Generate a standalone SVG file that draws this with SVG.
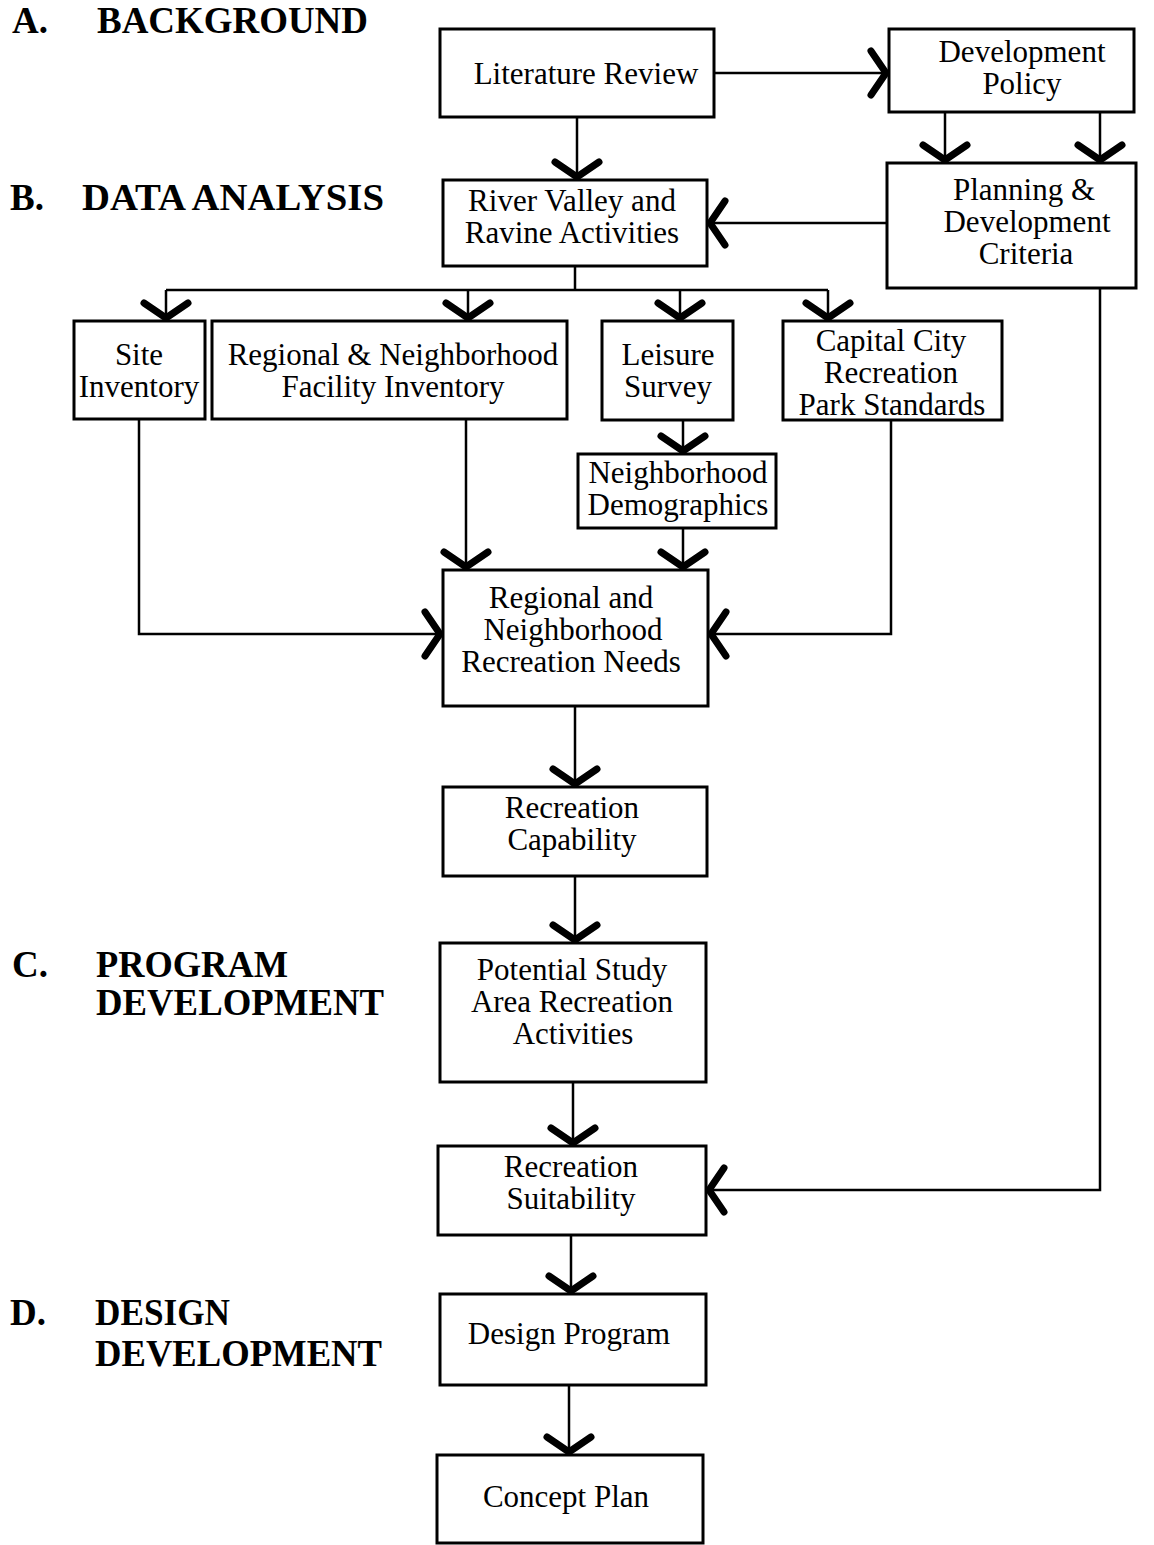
<svg xmlns="http://www.w3.org/2000/svg" width="1154" height="1545" viewBox="0 0 1154 1545">
<style>
.box{fill:#fff;stroke:#000;stroke-width:3}
.t{font-family:"Liberation Serif","Times New Roman",serif;font-size:31px;fill:#000;text-anchor:middle}
.h{font-family:"Liberation Serif","Times New Roman",serif;font-size:37px;font-weight:bold;fill:#000}
.c{fill:none;stroke:#000;stroke-width:2.5}
</style>
<defs>
<marker id="ah" markerUnits="userSpaceOnUse" markerWidth="50" markerHeight="50" viewBox="-25 -25 50 50" refX="0" refY="0" orient="auto" overflow="visible">
<path d="M-16,-22 L-1,0 L-16,22" fill="none" stroke="#000" stroke-width="7" stroke-linecap="round" stroke-linejoin="round"/>
</marker>
</defs>
<rect width="1154" height="1545" fill="#fff"/>

<g id="labels">
<text class="h" x="12" y="33">A.</text><text class="h" x="97" y="33" textLength="271" lengthAdjust="spacingAndGlyphs">BACKGROUND</text>
<text class="h" x="10" y="210">B.</text><text class="h" x="82" y="210" textLength="302" lengthAdjust="spacingAndGlyphs">DATA ANALYSIS</text>
<text class="h" x="12" y="977">C.</text><text class="h" x="96" y="977" textLength="192" lengthAdjust="spacingAndGlyphs">PROGRAM</text>
<text class="h" x="96" y="1015" textLength="288" lengthAdjust="spacingAndGlyphs">DEVELOPMENT</text>
<text class="h" x="10" y="1325">D.</text><text class="h" x="95" y="1325" textLength="135" lengthAdjust="spacingAndGlyphs">DESIGN</text>
<text class="h" x="95" y="1366" textLength="287" lengthAdjust="spacingAndGlyphs">DEVELOPMENT</text>
</g>

<g id="connectors">
<path class="c" d="M714,73 H887" marker-end="url(#ah)"/>
<path class="c" d="M577,117 V178" marker-end="url(#ah)"/>
<path class="c" d="M945,112 V161" marker-end="url(#ah)"/>
<path class="c" d="M1100,112 V161" marker-end="url(#ah)"/>
<path class="c" d="M887,223 H709" marker-end="url(#ah)"/>
<path class="c" d="M575,266 V290"/>
<path class="c" d="M166,290 H828"/>
<path class="c" d="M166,290 V319" marker-end="url(#ah)"/>
<path class="c" d="M468,290 V319" marker-end="url(#ah)"/>
<path class="c" d="M680,290 V319" marker-end="url(#ah)"/>
<path class="c" d="M828,290 V319" marker-end="url(#ah)"/>
<path class="c" d="M683,420 V452" marker-end="url(#ah)"/>
<path class="c" d="M139,419 V634 H441" marker-end="url(#ah)"/>
<path class="c" d="M466,419 V568" marker-end="url(#ah)"/>
<path class="c" d="M683,528 V568" marker-end="url(#ah)"/>
<path class="c" d="M891,420 V634 H710" marker-end="url(#ah)"/>
<path class="c" d="M1100,288 V1190 H708" marker-end="url(#ah)"/>
<path class="c" d="M575,706 V785" marker-end="url(#ah)"/>
<path class="c" d="M575,876 V941" marker-end="url(#ah)"/>
<path class="c" d="M573,1082 V1144" marker-end="url(#ah)"/>
<path class="c" d="M571,1235 V1292" marker-end="url(#ah)"/>
<path class="c" d="M569,1385 V1453" marker-end="url(#ah)"/>
</g>

<g id="lit"><rect class="box" x="440" y="29" width="274" height="88"/><text class="t" x="586" y="84">Literature Review</text></g>
<g id="devpolicy"><rect class="box" x="889" y="29" width="245" height="83"/><text class="t" x="1022" y="62">Development</text><text class="t" x="1022" y="94">Policy</text></g>
<g id="criteria"><rect class="box" x="887" y="163" width="249" height="125"/><text class="t" x="1024" y="200">Planning &amp;</text><text class="t" x="1027" y="232">Development</text><text class="t" x="1026" y="264">Criteria</text></g>
<g id="river"><rect class="box" x="443" y="180" width="264" height="86"/><text class="t" x="572" y="211">River Valley and</text><text class="t" x="572" y="243">Ravine Activities</text></g>
<g id="site"><rect class="box" x="74" y="321" width="131" height="98"/><text class="t" x="139" y="365">Site</text><text class="t" x="139" y="397">Inventory</text></g>
<g id="facility"><rect class="box" x="212" y="321" width="355" height="98"/><text class="t" x="393" y="365">Regional &amp; Neighborhood</text><text class="t" x="393" y="397">Facility Inventory</text></g>
<g id="leisure"><rect class="box" x="602" y="321" width="131" height="99"/><text class="t" x="668" y="365">Leisure</text><text class="t" x="668" y="397">Survey</text></g>
<g id="capital"><rect class="box" x="783" y="321" width="219" height="99"/><text class="t" x="891" y="351">Capital City</text><text class="t" x="891" y="383">Recreation</text><text class="t" x="892" y="415">Park Standards</text></g>
<g id="demo"><rect class="box" x="578" y="454" width="198" height="74"/><text class="t" x="678" y="483">Neighborhood</text><text class="t" x="678" y="515">Demographics</text></g>
<g id="needs"><rect class="box" x="443" y="570" width="265" height="136"/><text class="t" x="571" y="608">Regional and</text><text class="t" x="573" y="640">Neighborhood</text><text class="t" x="571" y="672">Recreation Needs</text></g>
<g id="capability"><rect class="box" x="443" y="787" width="264" height="89"/><text class="t" x="572" y="818">Recreation</text><text class="t" x="572" y="850">Capability</text></g>
<g id="potential"><rect class="box" x="440" y="943" width="266" height="139"/><text class="t" x="572" y="980">Potential Study</text><text class="t" x="572" y="1012">Area Recreation</text><text class="t" x="573" y="1044">Activities</text></g>
<g id="suitability"><rect class="box" x="438" y="1146" width="268" height="89"/><text class="t" x="571" y="1177">Recreation</text><text class="t" x="571" y="1209">Suitability</text></g>
<g id="design"><rect class="box" x="440" y="1294" width="266" height="91"/><text class="t" x="569" y="1344">Design Program</text></g>
<g id="concept"><rect class="box" x="437" y="1455" width="266" height="88"/><text class="t" x="566" y="1507">Concept Plan</text></g>
</svg>
